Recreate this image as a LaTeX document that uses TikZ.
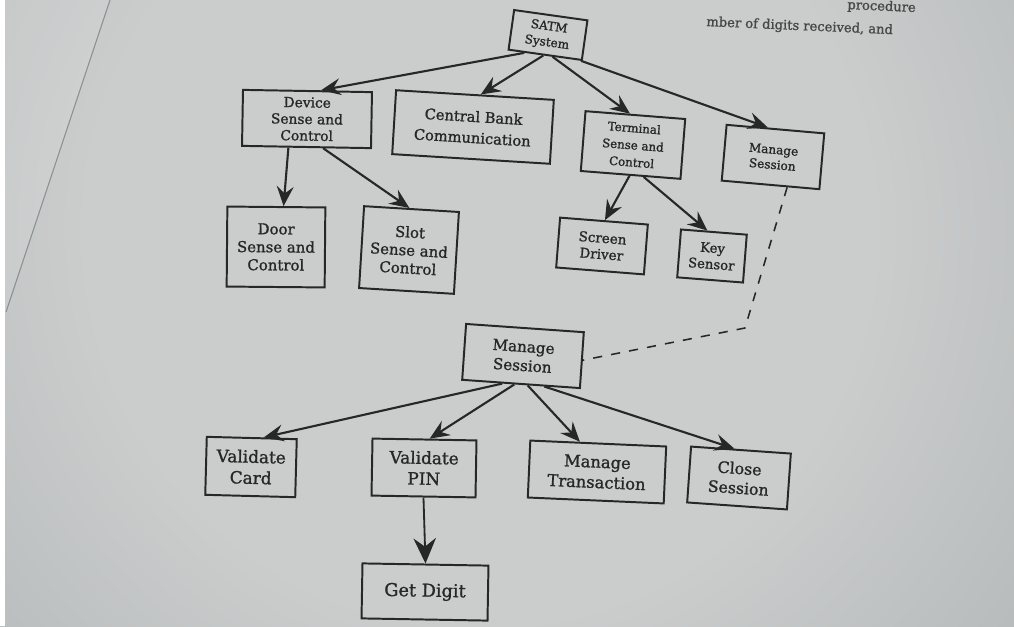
\documentclass[tikz,border=0pt]{standalone}
\usepackage{fontspec}
\setmainfont{DejaVu Serif}
\newfontfamily\diag{DejaVu Serif}[FakeBold=1.2]
\usetikzlibrary{arrows.meta}

\definecolor{ink}{HTML}{262727}
\definecolor{paperlight}{HTML}{CBCDCD}
\definecolor{paperdark}{HTML}{8E9494}
\definecolor{edgeline}{HTML}{6C7575}
\pgfdeclareradialshading{paper}{\pgfpoint{0bp}{0bp}}{%
  color(0bp)=(paperlight); color(14bp)=(paperlight);
  color(38bp)=(paperdark!75!paperlight); color(50bp)=(paperdark)}

\tikzset{
  box/.style={draw=ink, line width=1.4pt, align=center, inner sep=0pt,
              text=ink, minimum width=#1},
  arr/.style={draw=ink, line width=1.5pt,
              -{Stealth[length=14pt,width=12pt,inset=5pt]}},
  bigarr/.style={draw=ink, line width=1.3pt,
              -{Stealth[length=18pt,width=16pt,inset=6pt]}},
  link/.style={draw=ink, line width=1.1pt, dash pattern=on 6.5pt off 6.5pt},
  pagetext/.style={text=ink!85, inner sep=0pt, anchor=base west}
}

\begin{document}
\begin{tikzpicture}[x=0.025cm, y=-0.025cm]
\useasboundingbox (0,0) rectangle (1014,626);

% paper background with the page edge
\begin{scope}
  \clip (0,0) rectangle (1014,626);
  \shade[shading=paper] (-220,-470) rectangle (1180,930);
  \fill[white, opacity=0.10] (0,0) -- (110,0) -- (6,312) -- (0,312) -- cycle;
  \draw[edgeline, line width=0.7pt, opacity=0.7] (110,0) -- (6,312);
  \fill[white] (0,0) rectangle (5,626);
  % running text of the page
  \node[pagetext, font=\diag\fontsize{9.3}{11}\selectfont, rotate=-2.5] (runA) at (847,9) {procedure};
  \node[pagetext, font=\diag\fontsize{9.3}{11}\selectfont, rotate=-2.5] (runB) at (706,26) {mber of digits received, and};
\end{scope}

% top level
\node[box=74*0.025cm, minimum height=40*0.025cm, rotate=-8,
      font=\diag\fontsize{8.6}{11.4}\selectfont] (satm) at (548,35) {SATM\\System};

% second level
\node[box=129*0.025cm, minimum height=56*0.025cm, rotate=-1,
      font=\diag\fontsize{9.8}{11.8}\selectfont] (dev) at (307,119) {Device\\Sense and\\Control};
\node[box=158*0.025cm, minimum height=64*0.025cm, rotate=-3.5,
      font=\diag\fontsize{10.4}{15}\selectfont] (cbc) at (473,127) {Central Bank\\Communication};
\node[box=100*0.025cm, minimum height=60*0.025cm, rotate=-4.5,
      font=\diag\fontsize{8.4}{12.2}\selectfont] (term) at (633,145) {Terminal\\Sense and\\Control};
\node[box=98*0.025cm, minimum height=56*0.025cm, rotate=-5,
      font=\diag\fontsize{8.6}{10.8}\selectfont] (msTop) at (773,157) {Manage\\Session};

% third level
\node[box=98*0.025cm, minimum height=80*0.025cm, rotate=-0.5,
      font=\diag\fontsize{10.6}{12.8}\selectfont] (door) at (276,247) {Door\\Sense and\\Control};
\node[box=95*0.025cm, minimum height=82*0.025cm, rotate=-3.5,
      font=\diag\fontsize{10.6}{12.8}\selectfont] (slot) at (409,250) {Slot\\Sense and\\Control};
\node[box=88*0.025cm, minimum height=50*0.025cm, rotate=-4.5,
      font=\diag\fontsize{9.6}{11.6}\selectfont] (scr) at (602,246) {Screen\\Driver};
\node[box=66*0.025cm, minimum height=48*0.025cm, rotate=-4.5,
      font=\diag\fontsize{9.4}{11.6}\selectfont] (key) at (712,256) {Key\\Sensor};

% expanded Manage Session
\node[box=118*0.025cm, minimum height=56*0.025cm, rotate=-4,
      font=\diag\fontsize{10.8}{13.5}\selectfont] (msMid) at (523,356) {Manage\\Session};
\node[box=90*0.025cm, minimum height=58*0.025cm, rotate=-1.5,
      font=\diag\fontsize{12}{15}\selectfont] (vcard) at (251,467) {Validate\\Card};
\node[box=104*0.025cm, minimum height=57*0.025cm, rotate=-1,
      font=\diag\fontsize{12}{14.8}\selectfont] (vpin) at (424,468) {Validate\\PIN};
\node[box=136*0.025cm, minimum height=57*0.025cm, rotate=-2.5,
      font=\diag\fontsize{11.6}{14.5}\selectfont] (mtrans) at (597,472) {Manage\\Transaction};
\node[box=100*0.025cm, minimum height=56*0.025cm, rotate=-4,
      font=\diag\fontsize{11.2}{14}\selectfont] (close) at (739,478) {Close\\Session};
\node[box=126*0.025cm, minimum height=55*0.025cm, rotate=-1,
      font=\diag\fontsize{12.6}{15}\selectfont] (getd) at (425,592) {Get Digit};

% hierarchy arrows
\draw[arr] (satm.225) -- (dev.65);
\draw[arr] (satm.265) -- (cbc.80);
\draw[arr] (satm.290) -- (term.100);
\draw[arr] (satm.330) -- (msTop.105);

\draw[arr] (dev.238) -- (door.80);
\draw[arr] (dev.300) -- (slot.93);

\draw[arr] (term.268) -- (scr.88);
\draw[arr] (term.293) -- (key.105);

\draw[arr] (msMid.237) -- (vcard.68);
\draw[arr] (msMid.257) -- (vpin.80);
\draw[arr] (msMid.283) -- (mtrans.122);
\draw[arr] (msMid.309) -- (close.103);

\draw[bigarr] (vpin.south) -- (getd.north);

% dashed link to the expanded session
\coordinate (bend) at (745,328);
\draw[link] (msTop.300) -- (bend) -- (msMid.east);

\end{tikzpicture}
\end{document}
